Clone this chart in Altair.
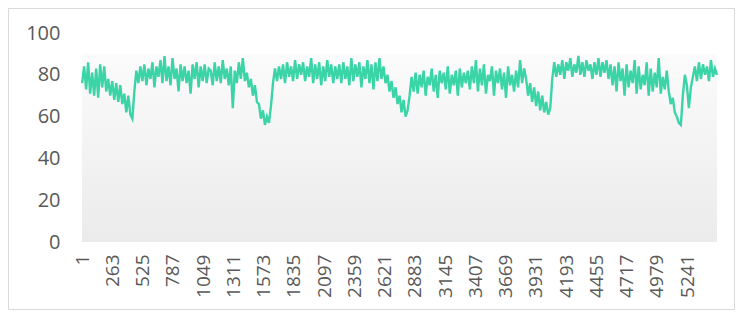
import altair as alt
import pandas as pd

# values, left to right (about one value per 2 px)
values = [
    76, 84, 73, 86, 71, 81, 70, 83, 69,
    85, 74, 84,
    72, 78, 70, 77,
    68, 76, 67, 75, 66,
    71, 62, 70, 61, 59,
    72, 82,
    76, 84, 77, 85, 75, 83, 78, 86, 74, 84, 79, 87, 76, 89, 77, 84, 75, 88,
    78, 83, 72, 85, 77, 84, 76, 82, 71, 85, 78, 86, 74, 84, 77, 85, 76, 83,
    82, 75, 86, 77, 84, 76, 87, 78, 83, 75, 84,
    64,
    82, 76, 86, 78, 88, 77,
    81, 74, 78, 70, 75, 67,
    66, 59, 63, 56, 60, 57,
    65, 76, 83,
    77, 84, 78, 85, 76, 86, 79, 84, 77, 87, 78, 85, 80, 86, 77, 84, 79, 88,
    76, 85, 78, 86, 75, 84, 77, 87, 79, 85, 76, 84, 78,
    85, 76, 86, 78, 84, 75, 88, 77, 85, 79, 86, 74, 84, 78, 87, 76, 85, 73,
    86, 77, 88, 78, 84, 76,
    80, 72, 77, 69, 74,
    66, 70, 62, 68, 60, 63,
    70, 79, 72, 81,
    71, 80, 74, 82, 70, 79, 75, 83, 72, 80, 69, 82, 76, 81, 73, 84, 71, 80,
    75, 82, 70, 83, 74, 81, 76,
    82, 73, 84, 76, 87, 72, 83, 75, 85, 71, 80, 77, 84, 70, 82, 76, 83, 73,
    81, 69, 84, 75, 80, 72, 82, 74, 87, 76, 83,
    78, 70, 76, 67, 74, 65, 72, 63, 70, 62, 67, 61, 64,
    78, 86,
    79, 85, 80, 87, 78, 86, 82, 88, 79, 85, 81, 89, 80, 86, 79, 87, 82, 85,
    78, 86,
    80, 88, 79, 86, 81, 87, 78, 85,
    75, 84, 72, 86, 77, 83, 70, 85, 74, 82, 76, 87, 71, 84, 73, 80, 75, 86,
    70, 83, 72, 81, 74, 88, 71, 79, 73, 82,
    72, 66, 69, 62, 60, 57, 56,
    70, 80, 75,
    64, 74,
    79, 84, 77, 86, 78, 85, 80, 84, 77, 87, 79, 83, 80,
]

n_points = 5500
x_tick_labels = [1, 263, 525, 787, 1049, 1311, 1573, 1835, 2097, 2359, 2621,
                 2883, 3145, 3407, 3669, 3931, 4193, 4455, 4717, 4979, 5241]
y_ticks = [0, 20, 40, 60, 80, 100]
band_top = 90

step = (n_points - 1) / (len(values) - 1)
df = pd.DataFrame({"idx": [1 + i * step for i in range(len(values))], "value": values})
band = pd.DataFrame({"x0": [0], "x1": [n_points], "y0": [0], "y1": [band_top]})

FONT = "Open Sans"
GRAY = "#595959"

xscale = alt.Scale(domain=[0, n_points], nice=False, zero=False)
yscale = alt.Scale(domain=[0, 100], nice=False)

xaxis = alt.Axis(values=x_tick_labels, format="d", labelAngle=-90, grid=False,
                 domain=False, ticks=False, labelPadding=12,
                 labelFontSize=19, labelFont=FONT, labelColor=GRAY,
                 labelOverlap=False, labelFlush=False, labelBound=False, title=None)
yaxis = alt.Axis(values=y_ticks, grid=False, domain=False, ticks=False,
                 labelPadding=22, labelFontSize=20, labelFont=FONT,
                 labelColor=GRAY, title=None)

bg = alt.Chart(band).mark_rect(
    fill=alt.Gradient(
        gradient="linear",
        stops=[alt.GradientStop(color="#fbfbfb", offset=0),
               alt.GradientStop(color="#ebebeb", offset=1)],
        x1=0, x2=0, y1=0, y2=1,
    )
).encode(
    x=alt.X("x0:Q", scale=xscale, axis=xaxis),
    x2="x1:Q",
    y=alt.Y("y0:Q", scale=yscale, axis=yaxis),
    y2="y1:Q",
)

line = alt.Chart(df).mark_line(color="#3ad4a7", strokeWidth=2.4, strokeJoin="miter").encode(
    x=alt.X("idx:Q", scale=xscale, axis=xaxis),
    y=alt.Y("value:Q", scale=yscale, axis=yaxis),
)

# light frame around the whole chart (kept inside the drawable canvas)
one = pd.DataFrame({"a": [0]})
FR = "#d9d9d9"
L, R, T, B = -73.5, 652.5, -24.5, 276.5
frame_top = alt.Chart(one).mark_rule(color=FR, strokeWidth=1).encode(
    x=alt.value(L), x2=alt.value(R), y=alt.value(T), y2=alt.value(T))
frame_bottom = alt.Chart(one).mark_rule(color=FR, strokeWidth=1).encode(
    x=alt.value(L), x2=alt.value(R), y=alt.value(B), y2=alt.value(B))
frame_left = alt.Chart(one).mark_rule(color=FR, strokeWidth=1).encode(
    x=alt.value(L), x2=alt.value(L), y=alt.value(T), y2=alt.value(B))
frame_right = alt.Chart(one).mark_rule(color=FR, strokeWidth=1).encode(
    x=alt.value(R), x2=alt.value(R), y=alt.value(T), y2=alt.value(B))

chart = alt.layer(bg, line, frame_top, frame_bottom, frame_left, frame_right).properties(
    width=635, height=209,
    autosize=alt.AutoSizeParams(type="none"),
    padding={"left": 74, "top": 25, "right": 18, "bottom": 68},
).configure_view(stroke=None)

chart.save("out.html", embed_options={"renderer": "svg", "actions": False})
